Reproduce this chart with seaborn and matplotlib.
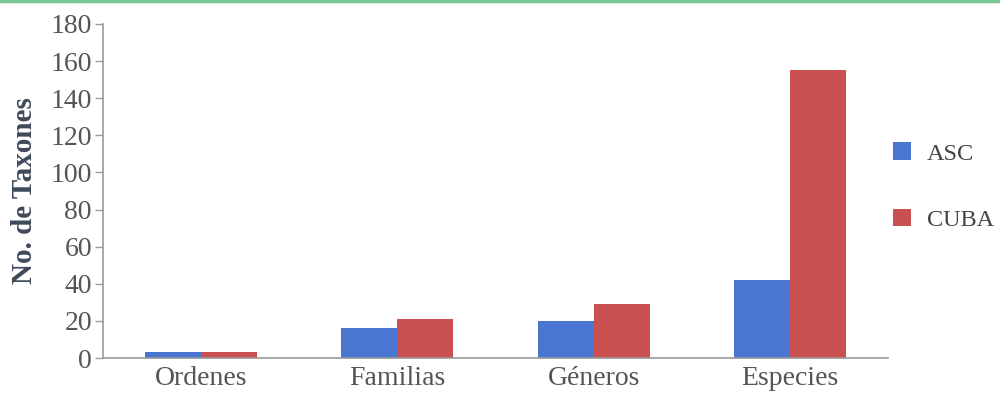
import matplotlib
matplotlib.use("Agg")
import matplotlib.pyplot as plt
from matplotlib.lines import Line2D
from matplotlib.patches import Patch
import seaborn as sns
import pandas as pd

categorias = ["Ordenes", "Familias", "Géneros", "Especies"]
asc = [3, 16, 20, 42]
cuba = [3, 21, 29, 155]
series = ["ASC", "CUBA"]
colores = ["#4a76d2", "#c9504f"]
y_ticks = list(range(0, 181, 20))

df = pd.DataFrame({
    "Taxon": categorias * 2,
    "Region": [series[0]] * len(categorias) + [series[1]] * len(categorias),
    "Valor": asc + cuba,
})

sns.set_style("white")
plt.rcParams["font.family"] = ["Liberation Serif", "DejaVu Serif"]

fig = plt.figure(figsize=(10, 3.93), dpi=100)
ax = fig.add_axes([0.103, 0.089, 0.785, 0.850])

sns.barplot(data=df, x="Taxon", y="Valor", hue="Region", order=categorias,
            hue_order=series, palette=colores, width=0.57, saturation=1,
            linewidth=0, ax=ax, legend=False)

ax.set_xlim(-0.5, 3.5)
ax.set_ylim(0, 180)
ax.set_yticks(y_ticks)
ax.set_yticklabels([str(v) for v in y_ticks], fontsize=20, color="#555555")
ax.set_xticks(range(len(categorias)))
ax.set_xticklabels(categorias, fontsize=20, color="#555555")
ax.tick_params(axis="x", length=0, pad=6)
ax.tick_params(axis="y", length=6, width=1, color="#9a9a9a", pad=2, left=True)
ax.set_xlabel("")
ax.set_ylabel("No. de Taxones", fontsize=21, fontweight="bold",
              color="#3e4a5a", labelpad=9)

for side in ("top", "right"):
    ax.spines[side].set_visible(False)
for side in ("left", "bottom"):
    ax.spines[side].set_color("#9a9a9a")
    ax.spines[side].set_linewidth(1.2)

handles = [Patch(facecolor=c, edgecolor="none") for c in colores]
fig.legend(handles, series, loc="center left", bbox_to_anchor=(0.893, 0.525),
           frameon=False, fontsize=17.5, handlelength=0.75, handleheight=0.75,
           handletextpad=0.65, labelspacing=1.8, borderpad=0, borderaxespad=0,
           labelcolor="#444444")

# thin green rule across the top edge
fig.add_artist(Line2D([0, 1], [0.997, 0.997], transform=fig.transFigure,
                      color="#7cc79a", linewidth=2.5))

fig.savefig("out.png", dpi=100)
